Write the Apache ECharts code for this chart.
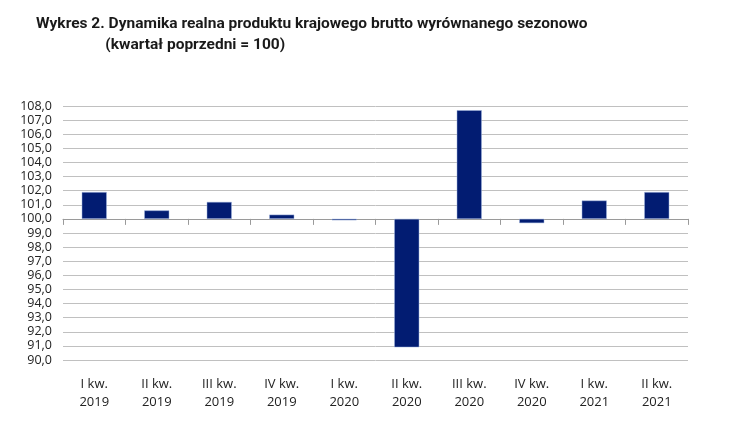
<!DOCTYPE html>
<html>
<head>
    <meta charset="utf-8">
    <title>ECharts</title>
    <script src="https://cdn.jsdelivr.net/npm/echarts@6/dist/echarts.min.js"></script>
    <style>
        body { margin: 0; background: #fff; }
    </style>
</head>
<body>
    <div id="main" style="width: 737px;height:439px;"></div>
    <script type="text/javascript">
        // dane z wykresu
        var kwartaly = ['I kw.\n2019', 'II kw.\n2019', 'III kw.\n2019', 'IV kw.\n2019',
                        'I kw.\n2020', 'II kw.\n2020', 'III kw.\n2020', 'IV kw.\n2020',
                        'I kw.\n2021', 'II kw.\n2021'];
        var pkb = [101.9, 100.6, 101.2, 100.3, 99.9, 90.9, 107.7, 99.7, 101.3, 101.9];
        var bazowy = 100;

        // słupki rysowane od poziomu 100
        var odchylenia = pkb.map(function (v) { return +(v - bazowy).toFixed(1); });

        var myChart = echarts.init(document.getElementById('main'));

        var option = {
            animation: false,
            textStyle: { fontFamily: 'Open Sans, sans-serif' },
            title: {
                text: 'Wykres 2. Dynamika realna produktu krajowego brutto wyrównanego sezonowo\n                  (kwartał poprzedni = 100)',
                left: 31,
                top: 9,
                textStyle: {
                    fontFamily: 'Roboto, sans-serif',
                    fontSize: 15.5,
                    fontWeight: 'bold',
                    color: '#1a1a1a',
                    lineHeight: 21
                }
            },
            grid: { left: 63, right: 49, top: 106, bottom: 79 },
            xAxis: [{
                type: 'category',
                data: kwartaly,
                position: 'bottom',
                axisLine: { onZero: true, lineStyle: { color: '#9a9a9a', width: 1 } },
                axisTick: { show: true, length: 6, lineStyle: { color: '#9a9a9a' } },
                axisLabel: { show: false }
            }, {
                type: 'category',
                data: kwartaly,
                position: 'bottom',
                axisLine: { show: false, onZero: false },
                axisTick: { show: false },
                axisLabel: {
                    margin: 15,
                    fontSize: 13,
                    lineHeight: 18,
                    color: '#222'
                }
            }],
            yAxis: {
                type: 'value',
                min: -10,
                max: 8,
                interval: 1,
                axisLine: { show: false },
                axisTick: { show: false },
                splitLine: { lineStyle: { color: '#c0c0c0', width: 1 } },
                axisLabel: {
                    margin: 11,
                    fontSize: 12.5,
                    color: '#222',
                    formatter: function (v) {
                        return (v + bazowy).toFixed(1).replace('.', ',');
                    }
                }
            },
            series: [{
                type: 'bar',
                xAxisIndex: 0,
                data: odchylenia,
                barWidth: '40%',
                itemStyle: {
                    color: '#021c72',
                    borderColor: '#9fb3dd',
                    borderWidth: 0.5
                }
            }]
        };

        myChart.setOption(option);
    </script>
</body>
</html>
